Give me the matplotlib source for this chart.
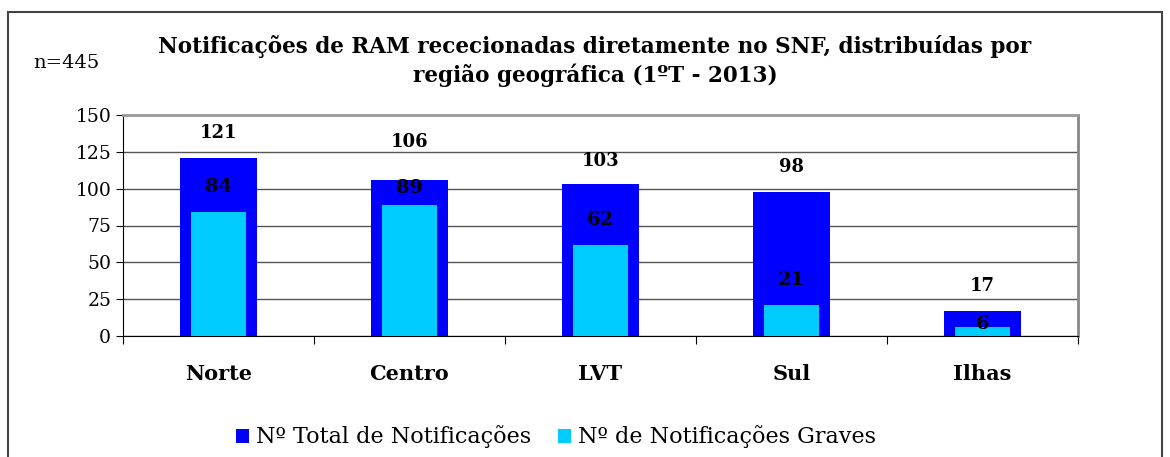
import matplotlib.pyplot as plt
from matplotlib.patches import Rectangle

# data
regioes = ['Norte', 'Centro', 'LVT', 'Sul', 'Ilhas']
total = [121, 106, 103, 98, 17]
graves = [84, 89, 62, 21, 6]
yticks = [0, 25, 50, 75, 100, 125, 150]

# label offsets above the bars (points), as placed in the original
off_total = [18, 27, 17, 18, 18]
off_graves = [18, 12, 18, 18, 2]

azul = '#0000FF'
ciano = '#00CCFF'
plt.rcParams['font.family'] = 'DejaVu Serif'

fig = plt.figure(figsize=(11.7, 4.57), dpi=100)
W, H = 1170, 457
ax = fig.add_axes([123 / W, 1 - 336 / H, (1078 - 123) / W, (336 - 115) / H])

x = list(range(len(regioes)))
ax.bar(x, total, width=0.40, color=azul, zorder=2, label='Nº Total de Notificações')
ax.bar(x, graves, width=0.29, color=ciano, zorder=3, label='Nº de Notificações Graves')

for i in x:
    ax.annotate(str(total[i]), (i, total[i]), xytext=(0, off_total[i]), textcoords='offset points',
                ha='center', va='center', fontsize=13, fontweight='bold', zorder=5)
    ax.annotate(str(graves[i]), (i, graves[i]), xytext=(0, off_graves[i]), textcoords='offset points',
                ha='center', va='center', fontsize=14, fontweight='bold', zorder=5)

ax.set_xlim(-0.5, len(regioes) - 0.5)
ax.set_ylim(0, 150)
ax.set_yticks(yticks)
ax.tick_params(axis='y', labelsize=13.5, length=5, direction='out', colors='black')
ax.set_xticks([i - 0.5 for i in range(len(regioes) + 1)])
ax.set_xticklabels([])
ax.set_xticks(x, minor=True)
ax.set_xticklabels(regioes, minor=True, fontsize=15, fontweight='bold')
ax.tick_params(axis='x', which='major', length=6)
ax.tick_params(axis='x', which='minor', length=0, pad=20)
ax.yaxis.grid(True, color='#555555', linewidth=1, zorder=0)
ax.set_axisbelow(True)
ax.spines['top'].set_color('#999999')
ax.spines['right'].set_color('#888888')
ax.spines['top'].set_linewidth(2)
ax.spines['right'].set_linewidth(2)

fig.text(595 / W, 1 - 61 / H, 'Notificações de RAM rececionadas diretamente no SNF, distribuídas por\nregião geográfica (1ºT - 2013)',
         ha='center', va='center', fontsize=15.5, fontweight='bold', linespacing=1.35)
fig.text(33 / W, 1 - 63 / H, 'n=445', ha='left', va='center', fontsize=14)

fig.legend(loc='center', bbox_to_anchor=(556 / W, 1 - 437 / H), ncol=2, frameon=False,
           fontsize=16, handlelength=0.6, handleheight=0.6, handletextpad=0.3, columnspacing=1.2)

fig.patches.append(Rectangle((8 / W, -0.1), (1162 - 8) / W, 1 - 12 / H + 0.1, transform=fig.transFigure,
                             fill=False, edgecolor='#444444', linewidth=1.5))

fig.savefig('out.png', dpi=100)
